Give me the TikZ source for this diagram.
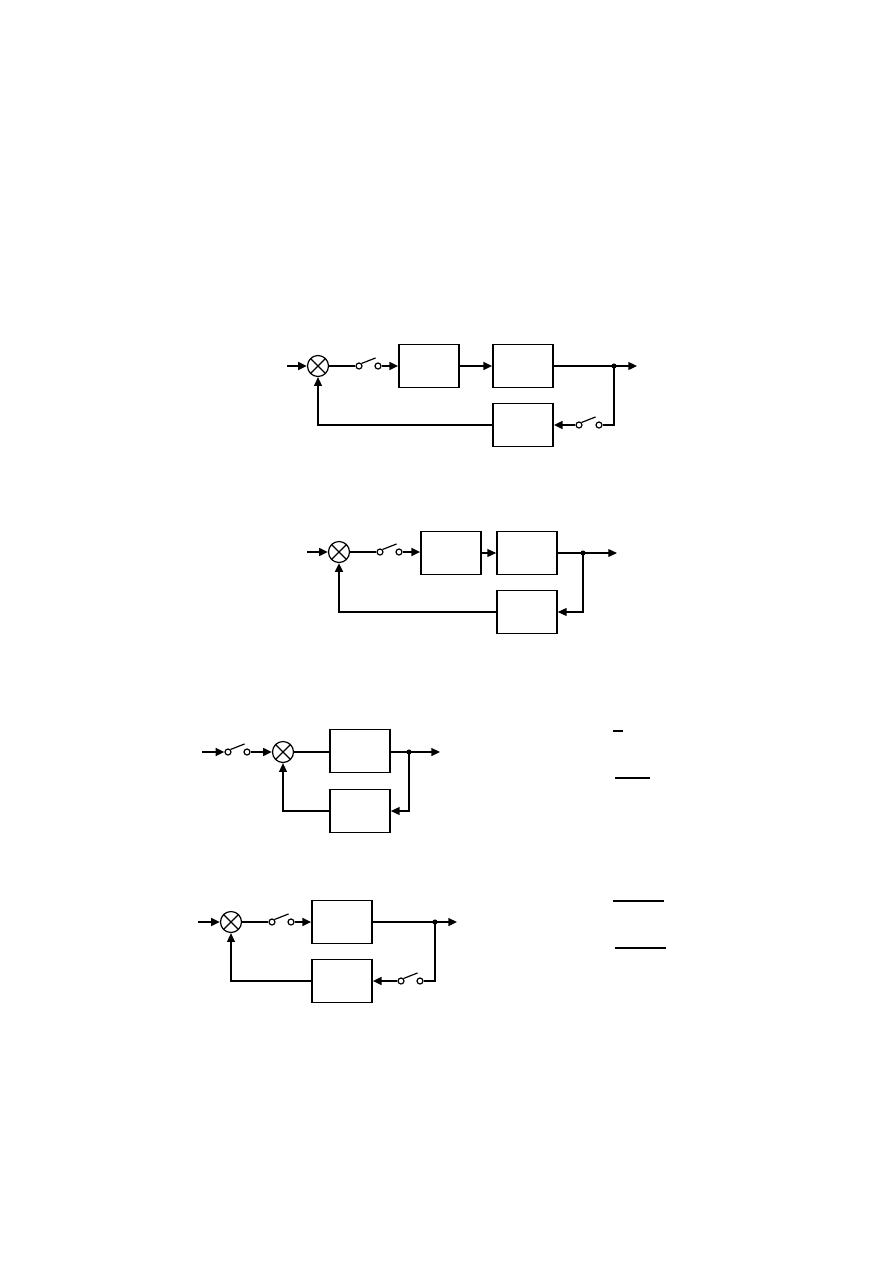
\documentclass[tikz,border=0pt]{standalone}
\usetikzlibrary{arrows.meta}
\tikzset{
  blk/.style={draw, line width=1.1pt, minimum width=40pt, minimum height=28.7pt, inner sep=0pt},
  sumnode/.style={draw, circle, line width=0.8pt, minimum size=14pt, inner sep=0pt,
    path picture={\draw[line width=0.8pt] (path picture bounding box.north west) -- (path picture bounding box.south east)
      (path picture bounding box.south west) -- (path picture bounding box.north east);}},
  contact/.style={draw, circle, line width=0.8pt, minimum size=4pt, inner sep=0pt, fill=white},
  junct/.style={circle, fill, minimum size=3.4pt, inner sep=0pt},
  fwd/.style={line width=1.3pt},
  fb/.style={line width=0.8pt},
  arr/.style={-{Triangle[length=5.8pt,width=5.2pt]}}
}
\begin{document}
\begin{tikzpicture}[x=0.6667pt,y=-0.6667pt]
\useasboundingbox (0,0) rectangle (893,1263);

% first loop: samplers in forward and feedback path
\coordinate (i1) at (287,366);
\node[sumnode] (s1) at (318,366) {};
\node[contact] (k1a) at (359,366) {};
\node[contact] (k1b) at (378,366) {};
\node[blk] (ga1) at (429,366) {};
\node[blk] (gb1) at (523,366) {};
\coordinate (d1) at (614,366);
\coordinate (o1) at (637,366);
\node[blk] (h1) at (523,425) {};
\node[contact] (k1c) at (579,425) {};
\node[contact] (k1d) at (599,425) {};
\draw[fwd,arr] (i1) -- (s1);
\draw[fwd] (s1) -- (k1a);
\draw[fb] (k1a.north east) -- ++(14,-5.5);
\draw[fwd,arr] (k1b) -- (ga1);
\draw[fwd,arr] (ga1) -- (gb1);
\draw[fwd] (gb1) -- (d1);
\draw[fwd,arr] (d1) -- (o1);
\draw[fb] (d1) |- (k1d);
\draw[fb] (k1c.north east) -- ++(14,-5.5);
\draw[fwd,arr] (k1c) -- (h1);
\draw[fb,arr] (h1) -| (s1);
\node[junct] at (d1) {};

% second loop
\coordinate (i2) at (307,552);
\node[sumnode] (s2) at (339,552) {};
\node[contact] (k2a) at (380,552) {};
\node[contact] (k2b) at (399,552) {};
\node[blk] (ga2) at (451,553) {};
\node[blk] (gb2) at (527,553) {};
\coordinate (d2) at (583,553);
\coordinate (o2) at (617,553);
\node[blk] (h2) at (527,612) {};
\draw[fwd,arr] (i2) -- (s2);
\draw[fwd] (s2) -- (k2a);
\draw[fb] (k2a.north east) -- ++(14,-5.5);
\draw[fwd,arr] (k2b) -- (ga2.west |- k2b);
\draw[fb,arr] (ga2) -- (gb2);
\draw[fb] (gb2) -- (d2);
\draw[fb,arr] (d2) -- (o2);
\draw[fb,arr] (d2) |- (h2);
\draw[fwd,arr] (h2) -| (s2);
\node[junct] at (d2) {};

% third loop: sampler at the input
\coordinate (i3) at (202,752);
\node[contact] (k3a) at (228,752) {};
\node[contact] (k3b) at (247,752) {};
\node[sumnode] (s3) at (283,752) {};
\node[blk] (ga3) at (360,751) {};
\coordinate (d3) at (409,752);
\coordinate (o3) at (440,752);
\node[blk] (h3) at (360,811) {};
\draw[fwd,arr] (i3) -- (k3a);
\draw[fb] (k3a.north east) -- ++(14,-5.5);
\draw[fwd,arr] (k3b) -- (s3);
\draw[fb] (s3) -- (ga3.west |- s3);
\draw[fwd] (ga3.east |- d3) -- (d3);
\draw[fwd,arr] (d3) -- (o3);
\draw[fb,arr] (d3) |- (h3);
\draw[fb,arr] (h3) -| (s3);
\node[junct] at (d3) {};

% fourth loop
\coordinate (i4) at (198,922);
\node[sumnode] (s4) at (231,922) {};
\node[contact] (k4a) at (272,922) {};
\node[contact] (k4b) at (291,922) {};
\node[blk] (ga4) at (342,922) {};
\coordinate (d4) at (435,922);
\coordinate (o4) at (457,922);
\node[blk] (h4) at (342,981) {};
\node[contact] (k4c) at (401,981) {};
\node[contact] (k4d) at (420,981) {};
\draw[fwd,arr] (i4) -- (s4);
\draw[fwd] (s4) -- (k4a);
\draw[fb] (k4a.north east) -- ++(14,-5.5);
\draw[fwd,arr] (k4b) -- (ga4);
\draw[fb] (ga4) -- (d4);
\draw[fwd,arr] (d4) -- (o4);
\draw[fb] (d4) |- (k4d);
\draw[fb] (k4c.north east) -- ++(14,-5.5);
\draw[fwd,arr] (k4c) -- (h4);
\draw[fb,arr] (h4) -| (s4);
\node[junct] at (d4) {};

% fraction bars
\draw[line width=0.8pt] (613,731) -- (623,731);
\draw[line width=0.8pt] (615,778) -- (650,778);
\draw[line width=0.8pt] (613,901) -- (664,901);
\draw[line width=0.8pt] (615,948) -- (666,948);
\end{tikzpicture}
\end{document}
